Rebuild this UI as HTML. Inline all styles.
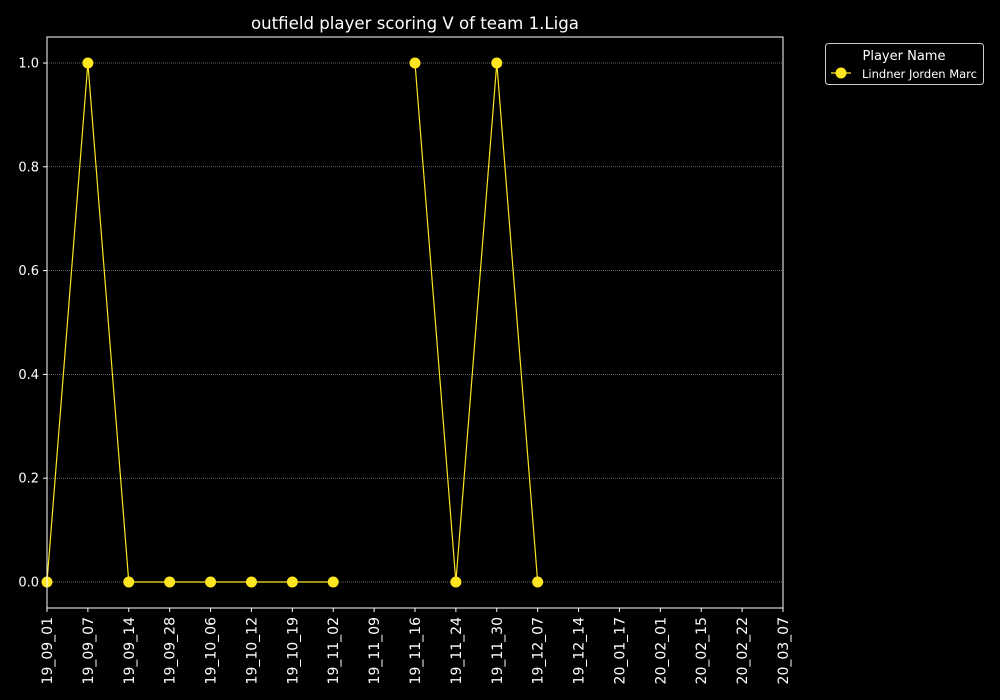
<!DOCTYPE html>
<html><head><meta charset="utf-8"><style>
body{margin:0;background:#000;}
svg{display:block;font-family:"DejaVu Sans","Liberation Sans",sans-serif;}
</style></head><body>
<svg id="chart" width="1000" height="700">
<rect width="1000" height="700" fill="#000"/>
<text x="415" y="29" fill="#fff" font-size="16.6" text-anchor="middle">outfield player scoring V of team 1.Liga</text>
<g id="grid"></g>
<g id="yticks"></g>
<g id="xticks"></g>
<g id="series"></g>
<rect x="47" y="37" width="736" height="571" fill="none" stroke="#fff" stroke-width="1"/>
<g>
<rect x="825.5" y="43.5" width="158" height="41" rx="3" fill="#000" stroke="#ccc"/>
<text x="904" y="60" fill="#fff" font-size="13" text-anchor="middle">Player Name</text>
<line x1="831" y1="73" x2="851" y2="73" stroke="#ffe620" stroke-width="1.2"/>
<circle cx="841" cy="73" r="5.5" fill="#ffe620"/>
<text x="862" y="78" fill="#fff" font-size="11.5">Lindner Jorden Marc</text>
</g>
</svg>
<script>
const categories=["19_09_01","19_09_07","19_09_14","19_09_28","19_10_06","19_10_12","19_10_19","19_11_02","19_11_09","19_11_16","19_11_24","19_11_30","19_12_07","19_12_14","20_01_17","20_02_01","20_02_15","20_02_22","20_03_07"];
const values=[0,1,0,0,0,0,0,0,null,1,0,1,0,null,null,null,null,null,null];
const yTicks=[0,0.2,0.4,0.6,0.8,1.0];
const yTickLabels=["0.0","0.2","0.4","0.6","0.8","1.0"];
const NS="http://www.w3.org/2000/svg";
const X0=47,X1=783;
function xs(i){return X0+i*(X1-X0)/(categories.length-1);}
function ys(v){return 582-v*519;}
function mk(t,a,p){const e=document.createElementNS(NS,t);for(const k in a)e.setAttribute(k,a[k]);p.appendChild(e);return e;}
const grid=document.getElementById('grid'),yt=document.getElementById('yticks'),xt=document.getElementById('xticks'),se=document.getElementById('series');
yTicks.forEach((v,i)=>{
 const g=mk('line',{x1:X0,x2:X1,y1:ys(v),y2:ys(v),stroke:'#bbb','stroke-width':0.5,'stroke-dasharray':'1,1'},grid);
 
 
 mk('line',{x1:X0-4,x2:X0,y1:ys(v),y2:ys(v),stroke:'#fff'},yt);
 const t=mk('text',{x:X0-8,y:ys(v)+4.5,fill:'#fff','font-size':13,'text-anchor':'end'},yt);
 t.textContent=yTickLabels[i];
 
 
});
categories.forEach((c,i)=>{
 const x=xs(i);
 mk('line',{x1:x,x2:x,y1:608,y2:612,stroke:'#fff'},xt);
 const t=mk('text',{x:0,y:0,fill:'#fff','font-size':14,'text-anchor':'end',transform:`translate(${x+5},617) rotate(-90)`},xt);
 t.textContent=c;
 
 
});
let seg=[];
function flush(){if(seg.length>1){const p=mk('polyline',{points:seg.join(' '),fill:'none',stroke:'#ffe620','stroke-width':1.2},se);
 
 }seg=[];}
values.forEach((v,i)=>{if(v===null){flush();return;}seg.push(xs(i)+','+ys(v));});
flush();
values.forEach((v,i)=>{if(v===null)return;
 const c=mk('circle',{cx:xs(i),cy:ys(v),r:5.5,fill:'#ffe620'},se);
 
 
});
</script>
</body></html>
